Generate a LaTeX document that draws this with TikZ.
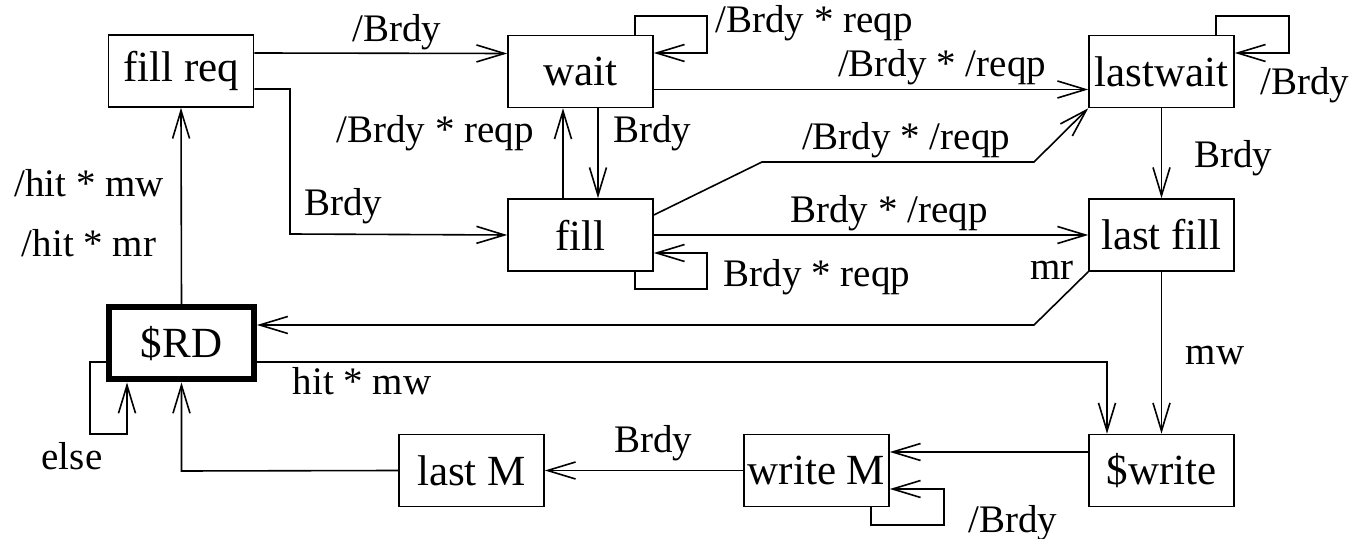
\documentclass[tikz,border=0pt]{standalone}
\usepackage{fontspec}
\setmainfont{Liberation Serif}
\usetikzlibrary{arrows.meta}
\begin{document}
\begin{tikzpicture}[x=0.5pt,y=-0.5pt,
  state/.style={draw,line width=0.8pt,minimum width=72.5pt,minimum height=36pt,inner sep=0pt,font=\fontsize{21.5}{24}\selectfont},
  initstate/.style={state,line width=3pt},
  arr/.style={line width=0.8pt,-{Straight Barb[length=14pt,width=8.5pt]}},
  lbl/.style={anchor=base,inner sep=0pt,font=\fontsize{19.5}{22}\selectfont}]
\useasboundingbox (0,0) rectangle (1355,539);

% states
\node[state] (fillreq) at (181,71) {fill req};
\node[state] (wait) at (580.5,71.5) {wait};
\node[state] (fill) at (580.5,235) {fill};
\node[state] (lastwait) at (1161.5,71.5) {lastwait};
\node[state] (lastfill) at (1161.5,235) {last fill};
\node[initstate] (rd) at (181.5,343.5) {\$RD};
\node[state] (lastm) at (471.5,470.5) {last M};
\node[state] (writem) at (816.5,470.5) {write M};
\node[state] (write) at (1161.5,470.5) {\$write};

% waypoints
\coordinate (p1) at (290,89);
\coordinate (p2) at (290,234);
\coordinate (w1) at (635,16);
\coordinate (w2) at (707,16);
\coordinate (w3) at (707,53);
\coordinate (f1) at (762,162);
\coordinate (f2) at (1034,162);
\coordinate (f3) at (635,289);
\coordinate (f4) at (707,289);
\coordinate (f5) at (707,253);
\coordinate (l1) at (1216,16);
\coordinate (l2) at (1289,16);
\coordinate (l3) at (1289,53);
\coordinate (m1) at (1034,325);
\coordinate (h1) at (1107,362);
\coordinate (e1) at (90,362);
\coordinate (e2) at (90,434);
\coordinate (e3) at (127,434);
\coordinate (b1) at (181.5,471);
\coordinate (s1) at (871,525);
\coordinate (s2) at (944,525);
\coordinate (s3) at (944,489);

% connectors
\draw[arr] ([yshift=9pt]fillreq.east) -- ([yshift=9pt]wait.west);
\draw[arr] ([yshift=-9pt]fillreq.east) -- (p1) -- (p2) -- (fill.west);
\draw[arr] ([xshift=27.25pt]wait.north) -- (w1) -- (w2) -- (w3) -- ([yshift=9.25pt]wait.east);
\draw[arr] ([yshift=-9pt]wait.east) -- ([yshift=-9pt]lastwait.west);
\draw[arr] ([xshift=8.75pt]wait.south) -- ([xshift=8.75pt]fill.north);
\draw[arr] ([xshift=-8.75pt]fill.north) -- ([xshift=-8.75pt]wait.south);
\draw[arr] ([yshift=10pt]fill.east) -- (f1) -- (f2) -- (lastwait.south west);
\draw[arr] (fill.east) -- (lastfill.west);
\draw[arr] ([xshift=27.25pt]fill.south) -- (f3) -- (f4) -- (f5) -- ([yshift=-9pt]fill.east);
\draw[arr] ([xshift=27.25pt]lastwait.north) -- (l1) -- (l2) -- (l3) -- ([yshift=9.25pt]lastwait.east);
\draw[arr] (lastwait.south) -- (lastfill.north);
\draw[arr] (lastfill.south west) -- (m1) -- ([yshift=9.25pt]rd.east);
\draw[arr] (lastfill.south) -- (write.north);
\draw[arr] ([yshift=-9.25pt]rd.east) -- (h1) -- ([xshift=-27.25pt]write.north);
\draw[arr] (rd.north) -- (fillreq.south);
\draw[arr] ([yshift=-9.25pt]rd.west) -- (e1) -- (e2) -- (e3) -- ([xshift=-27.25pt]rd.south);
\draw[arr] (lastm.west) -- (b1) -- (rd.south);
\draw[arr] (writem.west) -- (lastm.east);
\draw[arr] ([yshift=9.25pt]write.west) -- ([yshift=9.25pt]writem.east);
\draw[arr] ([xshift=27.25pt]writem.south) -- (s1) -- (s2) -- (s3) -- ([yshift=-9.25pt]writem.east);

% labels
\node[lbl] (t1) at (397,42) {/Brdy};
\node[lbl] (t2) at (814,33) {/Brdy * reqp};
\node[lbl] (t3) at (942,77) {/Brdy * /reqp};
\node[lbl] (t4) at (435,143) {/Brdy * reqp};
\node[lbl] (t5) at (652,143) {Brdy};
\node[lbl] (t6) at (906,150) {/Brdy * /reqp};
\node[lbl] (t7) at (343,216) {Brdy};
\node[lbl] (t8) at (889,223) {Brdy * /reqp};
\node[lbl] (t9) at (817,287) {Brdy * reqp};
\node[lbl] (t10) at (1305,95) {/Brdy};
\node[lbl] (t11) at (1233,168) {Brdy};
\node[lbl] (t12) at (1052,280) {mr};
\node[lbl] (t13) at (1215,365) {mw};
\node[lbl] (t14) at (362,395) {hit * mw};
\node[lbl] (t15) at (89,197) {/hit * mw};
\node[lbl] (t16) at (89,257) {/hit * mr};
\node[lbl] (t17) at (72,470) {else};
\node[lbl] (t18) at (653,453) {Brdy};
\node[lbl] (t19) at (1013,532) {/Brdy};
\end{tikzpicture}
\end{document}
